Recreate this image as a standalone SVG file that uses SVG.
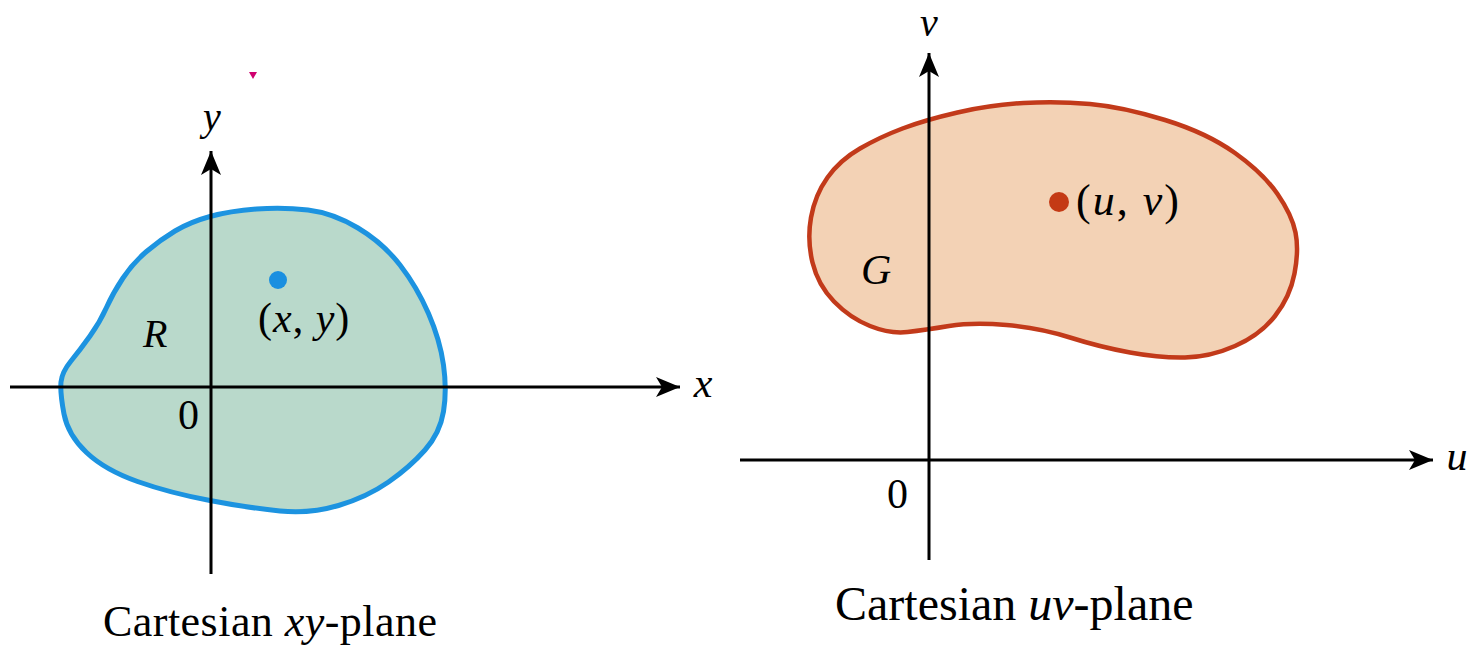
<svg xmlns="http://www.w3.org/2000/svg" width="1470" height="647" viewBox="0 0 1470 647">
<style>
.axis{stroke:#000;stroke-width:3;fill:none}
.lab{font-family:"Liberation Serif","Times New Roman",serif;fill:#000}
.it{font-style:italic}
</style>
<defs>
<marker id="ah" viewBox="0 0 24 20" refX="24" refY="10" markerWidth="24" markerHeight="20" orient="auto" markerUnits="userSpaceOnUse">
<path d="M0,0 L24,10 L0,20 L6,10 Z" fill="#000"/>
</marker>
</defs>
<rect width="1470" height="647" fill="#fff"/>
<g id="regionR">
<path d="M61,382 Q62,372 71,361 Q80,350 90,336 Q100,322 106.5,307.5 Q113,293 123,278 Q133,263 146.5,251.5 Q160,240 175,231 Q190,222 210,216.5 Q230,211 256.5,209 Q283,207 308,210 Q333,213 358,228 Q383,243 400,265 Q417,287 428.5,313.5 Q440,340 443.5,365 Q447,390 443.5,411.5 Q440,433 425,450 Q410,467 388.5,482 Q367,497 338.5,505.5 Q310,514 280,511 Q250,508 210,500.5 Q170,493 137.5,481.5 Q105,470 86.5,452.5 Q68,435 64,414 Q60,393 61,382 Z" fill="#b9d9cb" stroke="#1c93e0" stroke-width="5"/>
</g>
<g id="regionG">
<path d="M811,217.5 Q815,195 827.5,177.5 Q840,160 860,148.5 Q880,137 902.5,128.5 Q925,120 957.5,112.5 Q990,105 1023.5,103 Q1057,101 1090,104 Q1123,107 1165,120 Q1207,133 1235,153 Q1263,173 1277.5,194 Q1292,215 1295.5,232.5 Q1299,250 1294.5,273.5 Q1290,297 1275,316 Q1260,335 1235,346 Q1210,357 1185,357.5 Q1160,358 1130,352.5 Q1100,347 1070,337.5 Q1040,328 1006.5,325 Q973,322 949,326 Q925,330 907.5,332 Q890,334 870,326 Q850,318 834,301.5 Q818,285 812.5,262.5 Q807,240 811,217.5 Z" fill="#f3d2b5" stroke="#c23a1a" stroke-width="4.5"/>
</g>
<g id="connectors">
<line class="axis" x1="10" y1="387" x2="680" y2="387" marker-end="url(#ah)"/>
<line class="axis" x1="211" y1="574" x2="211" y2="151" marker-end="url(#ah)"/>
<line class="axis" x1="740" y1="460" x2="1433" y2="460" marker-end="url(#ah)"/>
<line class="axis" x1="929" y1="560" x2="929" y2="53" marker-end="url(#ah)"/>
</g>
<g id="pointXY">
<circle cx="278" cy="280" r="9" fill="#1a8fe0"/>
<text class="lab" x="258" y="332" font-size="42" letter-spacing="1">(<tspan class="it">x</tspan>, <tspan class="it">y</tspan>)</text>
</g>
<g id="pointUV">
<circle cx="1059" cy="202" r="10" fill="#c43a15"/>
<text class="lab" x="1076" y="215" font-size="44" letter-spacing="2">(<tspan class="it">u</tspan>, <tspan class="it">v</tspan>)</text>
</g>
<g id="labels">
<text class="lab it" x="212" y="130" font-size="40" text-anchor="middle">y</text>
<text class="lab it" x="703" y="397" font-size="42" text-anchor="middle">x</text>
<text class="lab it" x="143" y="347" font-size="40">R</text>
<text class="lab" x="178" y="429" font-size="42">0</text>
<text class="lab it" x="929" y="36" font-size="40" text-anchor="middle">v</text>
<text class="lab it" x="1457" y="470" font-size="42" text-anchor="middle">u</text>
<text class="lab" x="887" y="508" font-size="42">0</text>
<text class="lab it" x="861" y="284" font-size="42">G</text>
<text class="lab" x="103" y="636" font-size="44" textLength="334" lengthAdjust="spacing">Cartesian <tspan class="it">xy</tspan>-plane</text>
<text class="lab" x="835" y="620" font-size="48">Cartesian <tspan class="it">uv</tspan>-plane</text>
</g>
<polygon points="249,72 257,72 253,79" fill="#d0006f"/>
</svg>
